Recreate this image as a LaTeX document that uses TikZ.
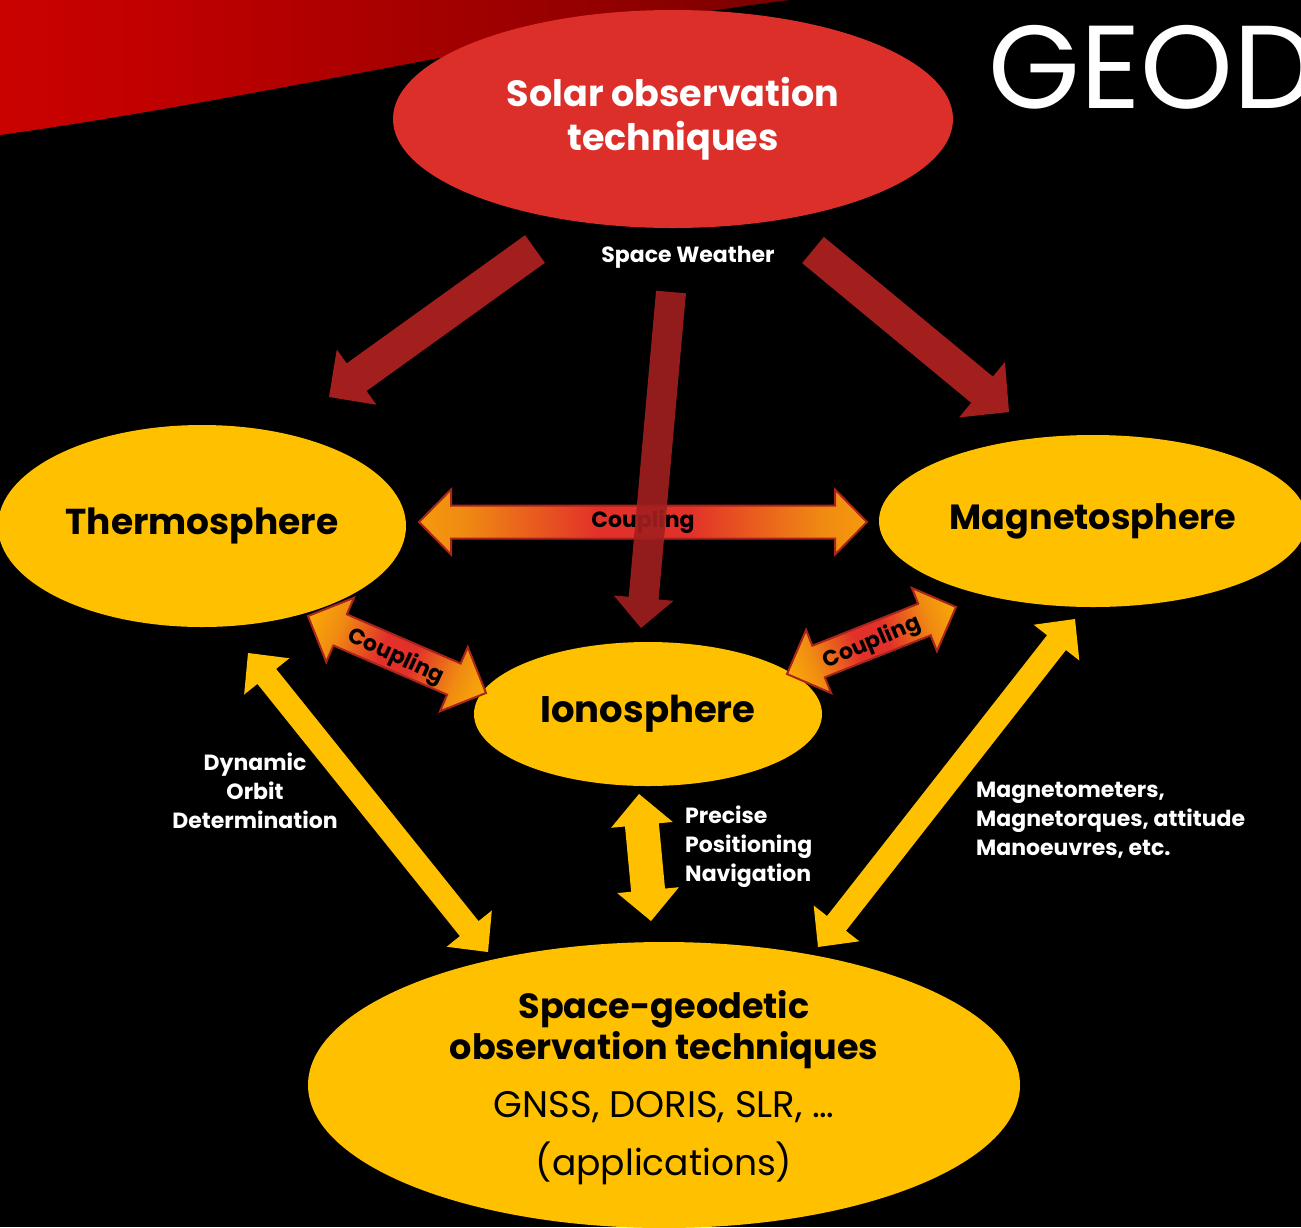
\documentclass[tikz,border=0pt]{standalone}
\usepackage{fontspec}
\setmainfont{Poppins}
\usetikzlibrary{calc,shapes.geometric}
\definecolor{solred}{HTML}{DC2F2A}
\definecolor{arrred}{HTML}{A21F1E}
\definecolor{ylw}{HTML}{FFC000}
\definecolor{cplred}{HTML}{E2302A}
\definecolor{cplorg}{HTML}{F08A12}
\definecolor{cplborder}{HTML}{A8241C}
\definecolor{swA}{HTML}{E00800}
\definecolor{swB}{HTML}{C00000}
\definecolor{swC}{HTML}{900000}
\definecolor{swD}{HTML}{550000}
\definecolor{swE}{HTML}{200000}
\pgfdeclarehorizontalshading{coupling}{100bp}{color(0bp)=(ylw); color(13bp)=(ylw); color(30bp)=(cplorg); color(45bp)=(cplred); color(55bp)=(cplred); color(70bp)=(cplorg); color(87bp)=(ylw); color(100bp)=(ylw)}
\pgfdeclarehorizontalshading{swoosh}{100bp}{color(0bp)=(swA); color(35bp)=(swB); color(65bp)=(swC); color(88bp)=(swD); color(100bp)=(swE)}
% single block arrow: from, to, shaft half width, head half width, head length, style
\newcommand\blockarrow[6]{%
  \coordinate (tmpc) at ($(#2)!#5!(#1)$);
  \path[#6] ($(#1)!#3!90:(#2)$) -- ($(tmpc)!#3!90:(#2)$) -- ($(tmpc)!#4!90:(#2)$) -- (#2)
    -- ($(tmpc)!#4!-90:(#2)$) -- ($(tmpc)!#3!-90:(#2)$) -- ($(#1)!#3!-90:(#2)$) -- cycle;}
% double block arrow
\newcommand\dblarrow[6]{%
  \coordinate (tmpa) at ($(#1)!#5!(#2)$);
  \coordinate (tmpb) at ($(#2)!#5!(#1)$);
  \path[#6] (#1) -- ($(tmpa)!#4!90:(#2)$) -- ($(tmpa)!#3!90:(#2)$) -- ($(tmpb)!#3!90:(#2)$)
    -- ($(tmpb)!#4!90:(#2)$) -- (#2) -- ($(tmpb)!#4!-90:(#2)$) -- ($(tmpb)!#3!-90:(#2)$)
    -- ($(tmpa)!#3!-90:(#2)$) -- ($(tmpa)!#4!-90:(#2)$) -- cycle;}
\tikzset{
  ybubble/.style={ellipse, fill=ylw, inner sep=0pt, text=black},
  whitelabel/.style={text=white, inner sep=0pt, font=\bfseries\fontsize{22}{29}\selectfont},
  redarrow/.style={fill=arrred},
  yarrow/.style={fill=ylw},
  couplearrow/.style={draw=cplborder, line width=2pt, shading=coupling, line join=miter},
  couplelabel/.style={text=black, inner sep=0pt, font=\bfseries\fontsize{22}{24}\selectfont},
}
\begin{document}
\begin{tikzpicture}[x=1pt, y=-1pt]
\useasboundingbox (0,0) rectangle (1301,1227);
\clip (0,0) rectangle (1301,1227);
\fill[black] (0,0) rectangle (1301,1227);
% red swoosh
\shade[shading=swoosh] (0,0) -- (790,0) .. controls (550,30) and (250,100) .. (0,135) -- cycle;
% title fragment
\node[anchor=base west, text=white, inner sep=0pt, font=\fontsize{118}{118}\selectfont] (geod) at (988,108) {GEOD};
% solar ellipse
\node[ellipse, fill=solred, minimum width=560pt, minimum height=218pt, inner sep=0pt,
      text=white, align=center, font=\bfseries\fontsize{36.5}{44}\selectfont] (solar) at (673,119)
      {Solar observation\\techniques};
\node[whitelabel] (sw) at (688,257) {Space Weather};
% bubbles
\node[ybubble, minimum width=408pt, minimum height=202pt, font=\bfseries\fontsize{36}{44}\selectfont] (thermo) at (202,526) {Thermosphere};
\node[ybubble, minimum width=428pt, minimum height=172pt, font=\bfseries\fontsize{35}{44}\selectfont] (magneto) at (1093,521) {Magnetosphere};
\node[ybubble, minimum width=348pt, minimum height=144pt, font=\bfseries\fontsize{37}{44}\selectfont] (iono) at (648,714) {Ionosphere};
\node[ellipse, fill=ylw, minimum width=712pt, minimum height=286pt, inner sep=0pt] (geo) at (664,1085) {};
\node[text=black, inner sep=0pt, align=center, font=\bfseries\fontsize{35}{41}\selectfont] (geoT) at (664,1030)
      {Space-geodetic\\observation techniques};
\node[text=black, inner sep=0pt, font=\fontsize{37}{40}\selectfont] (gnss) at (664,1107) {GNSS, DORIS, SLR, \dots};
\node[text=black, inner sep=0pt, font=\fontsize{36}{40}\selectfont] (appl) at (664,1163) {(applications)};
% connector end points
\coordinate (rlA) at (535,249);   \coordinate (rlB) at (329,397);
\coordinate (rrA) at (813,250);   \coordinate (rrB) at (1009,412);
\coordinate (rmA) at (671,292);   \coordinate (rmB) at (641,628);
\coordinate (chA) at (419,522);   \coordinate (chB) at (867,522);
\coordinate (clA) at (308,616);   \coordinate (clB) at (486,693);
\coordinate (crA) at (787,674);   \coordinate (crB) at (956,607);
\coordinate (ylA) at (248,653);   \coordinate (ylB) at (488,952);
\coordinate (ymA) at (639,794);   \coordinate (ymB) at (651,921);
\coordinate (yrA) at (1075,619);  \coordinate (yrB) at (818,947);
% red space-weather arrows
\blockarrow{rlA}{rlB}{17pt}{34pt}{34pt}{redarrow}
\blockarrow{rrA}{rrB}{17pt}{36pt}{35pt}{redarrow}
% coupling arrows
\dblarrow{chA}{chB}{16.5pt}{32.5pt}{32pt}{couplearrow}
\node[couplelabel] (chL) at (643,522) {Coupling};
\dblarrow{clA}{clB}{17pt}{35pt}{35pt}{couplearrow, shading angle=-23.4}
\node[couplelabel, rotate=-25] (clL) at (396,657) {Coupling};
\dblarrow{crA}{crB}{17pt}{34pt}{34pt}{couplearrow, shading angle=21.6}
\node[couplelabel, rotate=23] (crL) at (872,643) {Coupling};
% middle red arrow over the coupling
\blockarrow{rmA}{rmB}{15pt}{30pt}{30pt}{redarrow, fill opacity=0.9}
% yellow arrows
\dblarrow{ylA}{ylB}{12pt}{29pt}{30pt}{yarrow}
\dblarrow{ymA}{ymB}{17pt}{31pt}{31pt}{yarrow}
\dblarrow{yrA}{yrB}{12pt}{29pt}{30pt}{yarrow}
% labels
\node[whitelabel, align=center] (dod) at (255,791) {Dynamic\\Orbit\\Determination};
\node[whitelabel, align=left, anchor=west] (ppn) at (685,847) {Precise\\Positioning\\Navigation};
\node[whitelabel, align=left, anchor=west] (mag) at (976,820) {Magnetometers,\\Magnetorques, attitude\\Manoeuvres, etc.};
\end{tikzpicture}
\end{document}
